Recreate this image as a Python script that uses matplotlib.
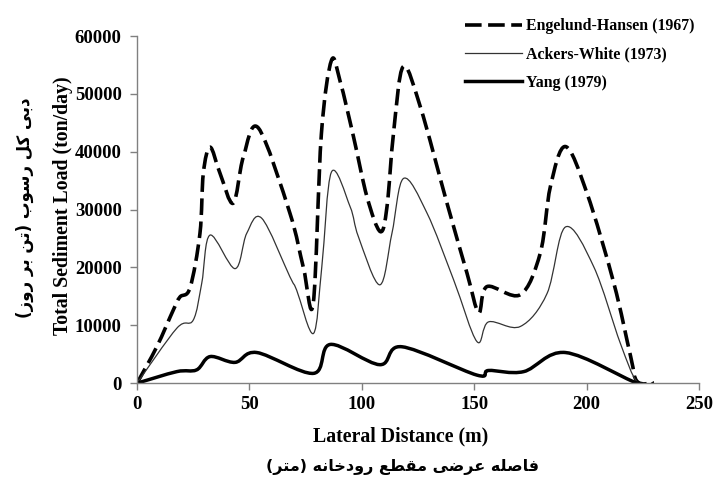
import numpy as np
import matplotlib
matplotlib.use("Agg")
import matplotlib.pyplot as plt
from matplotlib.path import Path
from matplotlib.patches import PathPatch
from matplotlib.lines import Line2D

# Data (x = lateral distance in m, y = ton/day)
eh_x = [0, 8.8, 16.2, 19.1, 23.6, 28, 29.5, 32.5, 36.9, 42.8, 47.3, 54, 68, 74, 78.4, 82, 86.5,
        90.4, 96.3, 102.3, 108.2, 111.2, 114.1, 118.4, 126, 137.9, 146.8, 152, 155.7, 170.5, 179.4,
        183.9, 190.6, 200.2, 212.1, 219.6, 222.5, 230]
eh_y = [0, 6300, 12700, 14900, 16500, 25900, 36300, 40800, 36300, 31100, 39100, 44100, 29400,
        20000, 13800, 43000, 55800, 52100, 42600, 32200, 26200, 30500, 43200, 54700, 47800, 31100,
        19000, 12200, 16700, 15300, 22500, 34000, 40900, 32800, 17300, 4600, 300, 0]

aw_x = [0, 17.7, 25, 28.8, 32.5, 43.6, 48.8, 55.5, 68, 71, 78.5, 82.2, 86.5, 94.8, 98.5, 108,
        113.4, 118.6, 129, 140.9, 151.2, 156.4, 170.5, 182.4, 190.6, 203.2, 215, 222.5, 230]
aw_y = [0, 9500, 10900, 17300, 25600, 19800, 25900, 28500, 18400, 16100, 8600, 20100, 36500,
        30500, 25300, 17000, 25900, 35400, 29400, 17800, 7200, 10600, 9800, 15500, 27000, 20100,
        6900, 200, 0]

yg_x = [0, 17.7, 26.5, 32.5, 43.6, 53.3, 78.5, 86, 108, 117.8, 151.2, 156.4, 172, 190.6,
        222.5, 230]
yg_y = [0, 2000, 2300, 4600, 3600, 5300, 1700, 6700, 3200, 6300, 1400, 2200, 2000, 5300, 0, 0]

labels = ["Engelund-Hansen (1967)", "Ackers-White (1973)", "Yang (1979)"]
x_ticks = [0, 50, 100, 150, 200, 250]
y_ticks = [0, 10000, 20000, 30000, 40000, 50000, 60000]

x_title = "Lateral Distance (m)"
y_title = "Total Sediment Load (ton/day)"
x_title_fa = "فاصله عرضی مقطع رودخانه (متر)"
y_title_fa = "دبی کل رسوب (تن بر روز)"

# forms: isolated, final, initial, medial (None when letter does not join forward)
FORMS = {
    "ا": ("\uFE8D", "\uFE8E", None, None),
    "ب": ("\uFE8F", "\uFE90", "\uFE91", "\uFE92"),
    "ت": ("\uFE95", "\uFE96", "\uFE97", "\uFE98"),
    "خ": ("\uFEA5", "\uFEA6", "\uFEA7", "\uFEA8"),
    "د": ("\uFEA9", "\uFEAA", None, None),
    "ر": ("\uFEAD", "\uFEAE", None, None),
    "ز": ("\uFEAF", "\uFEB0", None, None),
    "س": ("\uFEB1", "\uFEB2", "\uFEB3", "\uFEB4"),
    "ص": ("\uFEB9", "\uFEBA", "\uFEBB", "\uFEBC"),
    "ض": ("\uFEBD", "\uFEBE", "\uFEBF", "\uFEC0"),
    "ط": ("\uFEC1", "\uFEC2", "\uFEC3", "\uFEC4"),
    "ع": ("\uFEC9", "\uFECA", "\uFECB", "\uFECC"),
    "ف": ("\uFED1", "\uFED2", "\uFED3", "\uFED4"),
    "ق": ("\uFED5", "\uFED6", "\uFED7", "\uFED8"),
    "ل": ("\uFEDD", "\uFEDE", "\uFEDF", "\uFEE0"),
    "م": ("\uFEE1", "\uFEE2", "\uFEE3", "\uFEE4"),
    "ن": ("\uFEE5", "\uFEE6", "\uFEE7", "\uFEE8"),
    "ه": ("\uFEE9", "\uFEEA", "\uFEEB", "\uFEEC"),
    "و": ("\uFEED", "\uFEEE", None, None),
    "ی": ("\uFBFC", "\uFBFD", "\uFBFE", "\uFBFF"),
    "ک": ("\uFB8E", "\uFB8F", "\uFB90", "\uFB91"),
}


def shape_fa(s):
    # matplotlib has no arabic shaping, so pick presentation forms by hand
    out = []
    for i, ch in enumerate(s):
        if ch not in FORMS:
            out.append(ch)
            continue
        prev = s[i - 1] if i > 0 else ""
        nxt = s[i + 1] if i + 1 < len(s) else ""
        join_prev = prev in FORMS and FORMS[prev][2] is not None
        join_next = FORMS[ch][2] is not None and nxt in FORMS
        f = FORMS[ch]
        if join_prev and join_next:
            out.append(f[3])
        elif join_prev:
            out.append(f[1])
        elif join_next:
            out.append(f[2])
        else:
            out.append(f[0])
    vis = "".join(reversed(out))
    return vis.translate(str.maketrans("()", ")("))


def smooth_path(xs, ys):
    # catmull-rom through the read points, drawn as cubic bezier (like excel smoothed lines)
    p = np.column_stack([xs, ys]).astype(float)
    n = len(p)
    verts = [p[0]]
    codes = [Path.MOVETO]
    for i in range(n - 1):
        p0 = p[i - 1] if i > 0 else p[i]
        p3 = p[i + 2] if i + 2 < n else p[i + 1]
        c1 = p[i] + (p[i + 1] - p0) / 6.0
        c2 = p[i + 1] - (p3 - p[i]) / 6.0
        verts += [c1, c2, p[i + 1]]
        codes += [Path.CURVE4] * 3
    return Path(verts, codes)


plt.rcParams['font.family'] = ['Liberation Serif', 'DejaVu Sans']
plt.rcParams['font.weight'] = 'bold'

fig = plt.figure(figsize=(7.14, 4.79), dpi=100)
ax = fig.add_axes([0.1919, 0.2, 0.7871, 0.7248])

eh_style = dict(color='black', lw=2.6, linestyle=(0, (4.6, 1.8)))
aw_style = dict(color='#333333', lw=0.9, linestyle='-')
yg_style = dict(color='black', lw=2.5, linestyle='-')

for xs, ys, st in [(eh_x, eh_y, eh_style), (aw_x, aw_y, aw_style), (yg_x, yg_y, yg_style)]:
    ax.add_patch(PathPatch(smooth_path(xs, ys), fill=False, capstyle='butt',
                           joinstyle='round', **st))

ax.set_xlim(0, 250)
ax.set_ylim(0, 60000)
ax.set_xticks(x_ticks)
ax.set_yticks(y_ticks)
ax.tick_params(direction='out', length=5, width=1, color='#808080', labelsize=13.5)
ax.tick_params(axis='y', pad=6)
ax.tick_params(axis='x', pad=4)
for side in ['top', 'right']:
    ax.spines[side].set_visible(False)
for side in ['left', 'bottom']:
    ax.spines[side].set_color('#808080')
    ax.spines[side].set_linewidth(1)

# axis titles placed like in the source figure (centred a bit left of the plot area)
fig.text(401 / 714, 1 - 436 / 479, x_title, ha='center', va='center',
         fontsize=14.3, fontweight='bold')
fig.text(63 / 714, 1 - 206 / 479, y_title, ha='center', va='center', rotation=90,
         fontsize=14.3, fontweight='bold')
fig.text(402 / 714, 1 - 467 / 479, shape_fa(x_title_fa), ha='center', va='center',
         fontsize=11.5, fontweight='bold', family=['DejaVu Sans'])
fig.text(25 / 714, 1 - 208 / 479, shape_fa(y_title_fa), ha='center', va='center',
         rotation=90, fontsize=12, fontweight='bold', family=['DejaVu Sans'])

handles = [Line2D([], [], **eh_style), Line2D([], [], **aw_style), Line2D([], [], **yg_style)]
fig.legend(handles, labels, loc='upper left', bbox_to_anchor=(459 / 714, 1 - 12 / 479),
           frameon=False, handlelength=3.6, handletextpad=0.2,
           labelspacing=0.78, borderaxespad=0, prop={'weight': 'bold', 'size': 11.4})

fig.savefig("out.png", dpi=100)
